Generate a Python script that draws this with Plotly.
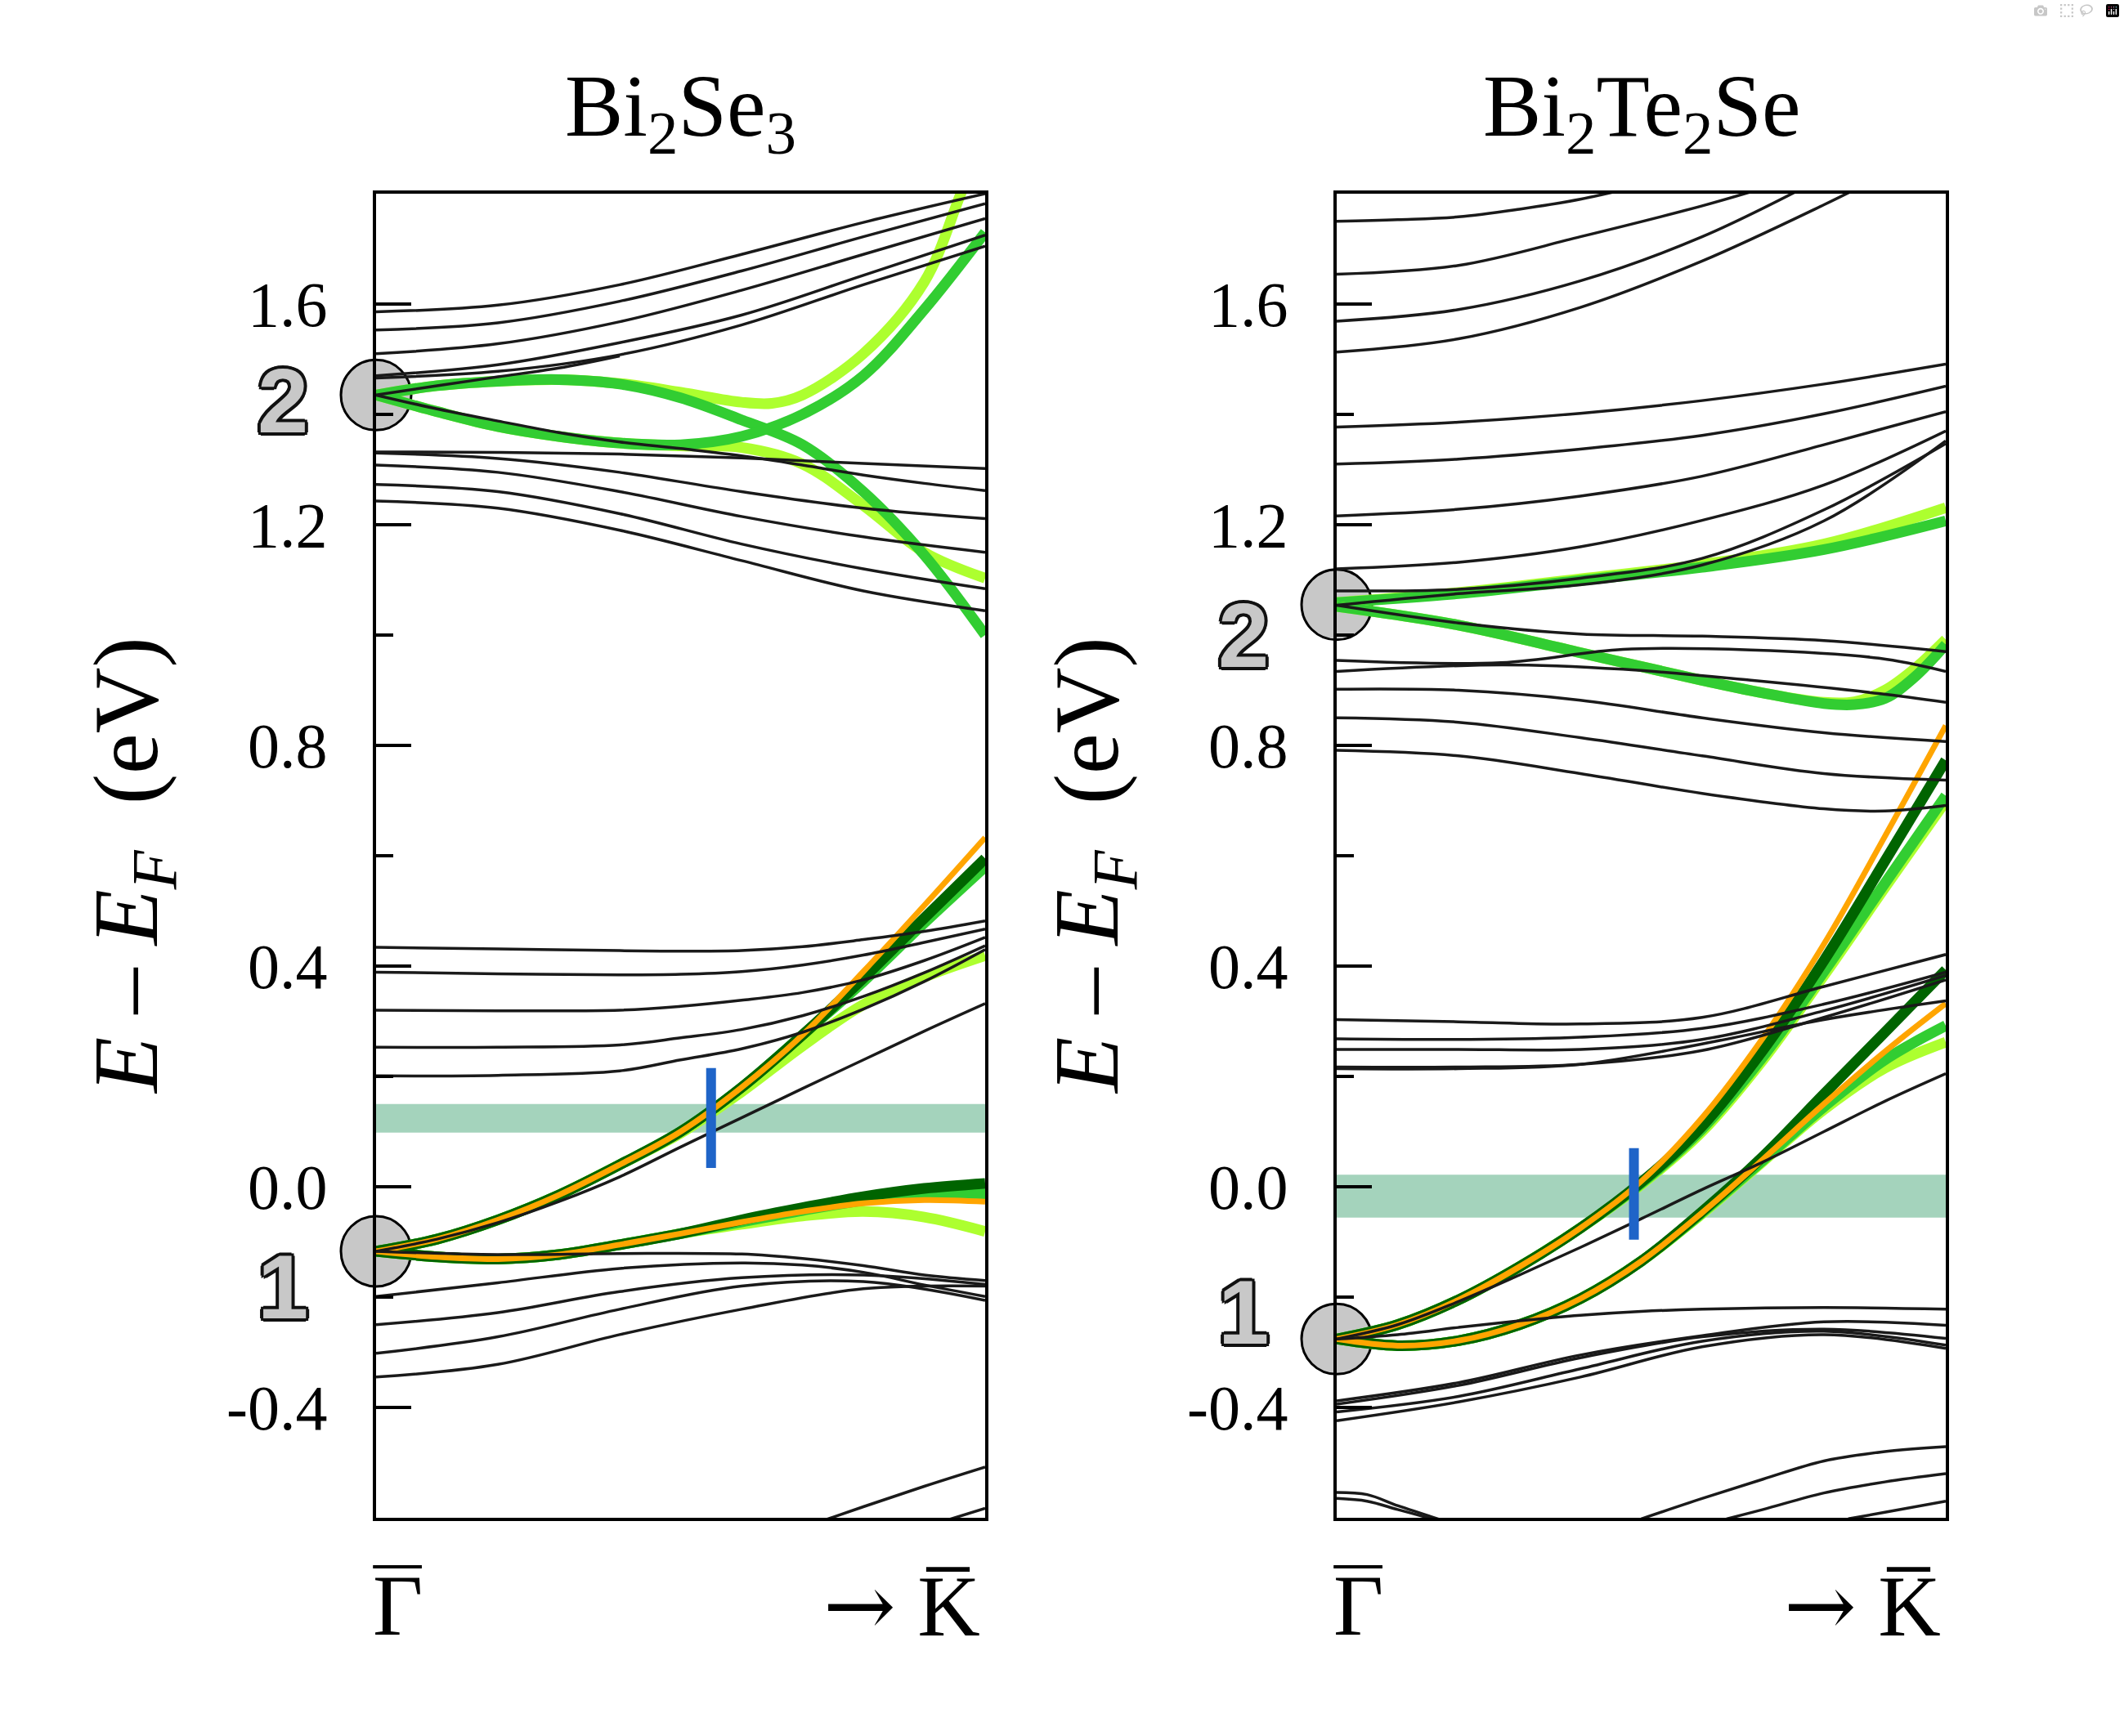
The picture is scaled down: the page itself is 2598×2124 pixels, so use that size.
import plotly.graph_objects as go

# k along Gamma -> K (fraction of the drawn path)
k6 = [0.0, 0.2, 0.4, 0.6, 0.8, 1.0]
k9 = [0.0, 0.2, 0.4, 0.5, 0.6, 0.7, 0.8, 0.9, 1.0]
k11 = [0.0, 0.1, 0.2, 0.3, 0.4, 0.5, 0.6, 0.7, 0.8, 0.9, 1.0]

# ---------------- Bi2Se3 (left panel) ----------------
se_u1 = [1.586, 1.598, 1.635, 1.69, 1.748, 1.80]
se_u2 = [1.553, 1.566, 1.605, 1.66, 1.722, 1.782]
se_u3 = [1.51, 1.528, 1.568, 1.625, 1.69, 1.755]
se_u4 = [1.47, 1.49, 1.53, 1.58, 1.652, 1.725]
se_u5 = [1.466, 1.478, 1.508, 1.562, 1.635, 1.705]
se_u6_k = [0.0, 0.1, 0.2, 0.3, 0.4]
se_u6 = [1.435, 1.452, 1.468, 1.484, 1.506]
se_d1 = [1.435, 1.41, 1.388, 1.367, 1.35, 1.338, 1.325, 1.308, 1.29, 1.275, 1.262]
se_f1 = [1.332, 1.331, 1.328, 1.321, 1.311, 1.302]
se_f2 = [1.33, 1.32, 1.295, 1.26, 1.23, 1.211]
se_f3 = [1.308, 1.295, 1.26, 1.215, 1.178, 1.15]
se_f4 = [1.273, 1.26, 1.22, 1.165, 1.12, 1.084]
se_f5 = [1.243, 1.23, 1.19, 1.135, 1.08, 1.044]
se_c1 = [0.434, 0.431, 0.428, 0.427, 0.428, 0.435, 0.448, 0.463, 0.482]
se_c2 = [0.389, 0.386, 0.384, 0.385, 0.39, 0.402, 0.42, 0.443, 0.467]
se_c3 = [0.320, 0.319, 0.320, 0.327, 0.338, 0.352, 0.375, 0.41, 0.452]
se_c4 = [0.253, 0.253, 0.257, 0.27, 0.285, 0.31, 0.345, 0.388, 0.437]
se_c5 = [0.201, 0.202, 0.21, 0.23, 0.25, 0.28, 0.322, 0.372, 0.43]
se_c6 = [-0.117, -0.095, -0.065, -0.027, 0.018, 0.072, 0.125, 0.178, 0.23, 0.282, 0.332]
se_v_k = [0.0, 0.2, 0.4, 0.6, 0.7, 0.8, 0.9, 1.0]
se_v1 = [-0.117, -0.123, -0.121, -0.122, -0.13, -0.143, -0.16, -0.17]
se_v2 = [-0.199, -0.174, -0.148, -0.138, -0.142, -0.155, -0.178, -0.199]
se_v3 = [-0.25, -0.228, -0.19, -0.165, -0.16, -0.177]
se_v4 = [-0.302, -0.272, -0.222, -0.18, -0.172, -0.206]
se_v5 = [-0.345, -0.322, -0.268, -0.222, -0.185, -0.18]
se_v6_k = [0.7, 0.8, 0.9, 1.0]
se_v6 = [-0.618, -0.58, -0.543, -0.508]
se_v7_k = [0.9, 1.0]
se_v7 = [-0.617, -0.583]

# surface states and resonances (coloured)
se_ss_up = [-0.117, -0.095, -0.06, -0.015, 0.04, 0.1, 0.18, 0.275, 0.39, 0.51, 0.633]
se_ss_up_dg = [-0.117, -0.095, -0.06, -0.015, 0.04, 0.1, 0.18, 0.275, 0.378, 0.487, 0.595]
se_ss_up_lg = [-0.117, -0.095, -0.06, -0.015, 0.04, 0.1, 0.18, 0.275, 0.372, 0.478, 0.58]
se_ss_up_yg = [-0.117, -0.095, -0.06, -0.015, 0.04, 0.097, 0.172, 0.255, 0.33, 0.38, 0.419]
se_ss_lo = [-0.117, -0.127, -0.131, -0.123, -0.105, -0.085, -0.064, -0.045, -0.03, -0.024, -0.027]
se_ss_lo_dg = [-0.117, -0.127, -0.131, -0.123, -0.105, -0.085, -0.06, -0.038, -0.018, -0.003, 0.006]
se_ss_lo_lg = [-0.117, -0.127, -0.131, -0.123, -0.105, -0.085, -0.064, -0.043, -0.025, -0.015, -0.013]
se_ss_lo_yg = [-0.117, -0.127, -0.131, -0.123, -0.105, -0.085, -0.068, -0.053, -0.045, -0.055, -0.081]
se_cb_p = [1.435, 1.452, 1.46, 1.463, 1.455, 1.43, 1.39, 1.345, 1.26, 1.145, 1.0]
se_cb_q = [1.435, 1.405, 1.378, 1.36, 1.348, 1.345, 1.36, 1.4, 1.47, 1.59, 1.73]
se_cb_a_k = [0.0, 0.1, 0.2, 0.3, 0.4, 0.5, 0.6, 0.65, 0.7, 0.8, 0.9, 0.96, 1.0]
se_cb_a = [1.435, 1.452, 1.46, 1.463, 1.456, 1.44, 1.422, 1.42, 1.435, 1.51, 1.64, 1.80, 1.91]
se_cb_b = [1.435, 1.405, 1.378, 1.36, 1.348, 1.343, 1.34, 1.31, 1.235, 1.15, 1.103]

se_kf = 0.55
se_kf_e = [0.034, 0.215]
se_band = [0.098, 0.150]
se_nodes = [1.435, -0.117]
se_node_lbl = [1.425, -0.182]

# ---------------- Bi2Te2Se (right panel) ----------------
te_r1_k = [0.0, 0.1, 0.2, 0.3, 0.4, 0.5]
te_r1 = [1.750, 1.753, 1.758, 1.772, 1.79, 1.815]
te_r2_k = [0.0, 0.2, 0.4, 0.6, 0.7]
te_r2 = [1.654, 1.67, 1.722, 1.778, 1.81]
te_r3_k = [0.0, 0.2, 0.4, 0.6, 0.8]
te_r3 = [1.569, 1.59, 1.642, 1.722, 1.83]
te_r4_k = [0.0, 0.2, 0.4, 0.6, 0.8, 0.9]
te_r4 = [1.513, 1.537, 1.594, 1.678, 1.78, 1.835]
te_r5 = [1.377, 1.386, 1.402, 1.425, 1.455, 1.491]
te_r6 = [1.310, 1.319, 1.337, 1.362, 1.401, 1.451]
te_r7 = [1.216, 1.228, 1.252, 1.288, 1.345, 1.405]
te_r8 = [1.120, 1.132, 1.160, 1.208, 1.272, 1.370]
te_r9 = [1.08, 1.083, 1.103, 1.139, 1.227, 1.347]
te_r10 = [1.054, 1.075, 1.091, 1.127, 1.207, 1.352]
te_r11 = [1.054, 1.022, 1.002, 0.998, 0.99, 0.97]
te_r12_k = [0.0, 0.27, 0.47, 0.68, 0.89, 1.0]
te_r12 = [0.954, 0.95, 0.974, 0.973, 0.958, 0.934]
te_r13 = [0.934, 0.946, 0.938, 0.918, 0.894, 0.878]
te_r14 = [0.902, 0.90, 0.882, 0.85, 0.823, 0.807]
te_r15 = [0.85, 0.842, 0.814, 0.781, 0.749, 0.737]
te_r16_k = [0.0, 0.2, 0.4, 0.6, 0.8, 0.9, 1.0]
te_r16 = [0.791, 0.781, 0.749, 0.713, 0.685, 0.681, 0.691]
te_s1 = [0.303, 0.299, 0.295, 0.307, 0.363, 0.421]
te_s2 = [0.268, 0.267, 0.271, 0.287, 0.331, 0.389]
te_s3 = [0.249, 0.249, 0.249, 0.267, 0.319, 0.383]
te_s4 = [0.217, 0.217, 0.222, 0.247, 0.307, 0.375]
te_s5 = [0.214, 0.214, 0.222, 0.259, 0.303, 0.337]
te_s6 = [-0.276, -0.25, -0.208, -0.16, -0.11, -0.058, -0.005, 0.045, 0.1, 0.155, 0.205]
te_t1_k = [0.0, 0.1, 0.2, 0.3, 0.4, 0.5, 0.6, 0.8, 1.0]
te_t1 = [-0.276, -0.268, -0.255, -0.243, -0.233, -0.226, -0.222, -0.219, -0.222]
te_t2 = [-0.388, -0.355, -0.305, -0.27, -0.245, -0.251]
te_t3 = [-0.394, -0.36, -0.31, -0.272, -0.258, -0.275]
te_t4 = [-0.408, -0.38, -0.33, -0.28, -0.262, -0.287]
te_t5 = [-0.424, -0.39, -0.345, -0.29, -0.268, -0.293]
te_v12_k = [0.0, 0.05, 0.1, 0.15, 0.2]
te_v1 = [-0.554, -0.558, -0.578, -0.596, -0.615]
te_v2 = [-0.565, -0.57, -0.585, -0.6, -0.615]
te_v3_k = [0.5, 0.6, 0.7, 0.8, 0.9, 1.0]
te_v3 = [-0.602, -0.565, -0.53, -0.497, -0.48, -0.471]
te_v4_k = [0.64, 0.7, 0.8, 0.9, 1.0]
te_v4 = [-0.602, -0.585, -0.555, -0.535, -0.52]
te_v5_k = [0.84, 0.9, 1.0]
te_v5 = [-0.602, -0.59, -0.57]

te_ss_up = [-0.276, -0.25, -0.205, -0.145, -0.075, 0.01, 0.125, 0.27, 0.44, 0.635, 0.836]
te_ss_up_dg = [-0.276, -0.25, -0.205, -0.145, -0.075, 0.008, 0.11, 0.248, 0.41, 0.59, 0.773]
te_ss_up_lg = [-0.276, -0.25, -0.205, -0.145, -0.075, 0.006, 0.105, 0.236, 0.39, 0.55, 0.709]
te_ss_up_yg = [-0.276, -0.25, -0.205, -0.145, -0.075, 0.004, 0.1, 0.23, 0.383, 0.542, 0.699]
te_ss_lo = [-0.276, -0.288, -0.279, -0.25, -0.203, -0.135, -0.047, 0.05, 0.15, 0.245, 0.332]
te_ss_lo_dg = [-0.276, -0.288, -0.279, -0.25, -0.203, -0.135, -0.045, 0.055, 0.168, 0.28, 0.393]
te_ss_lo_lg = [-0.276, -0.288, -0.279, -0.25, -0.203, -0.135, -0.047, 0.048, 0.145, 0.23, 0.292]
te_ss_lo_yg = [-0.276, -0.288, -0.279, -0.25, -0.203, -0.135, -0.049, 0.046, 0.14, 0.215, 0.262]
te_cb_up_lg = [1.059, 1.075, 1.099, 1.123, 1.155, 1.207]
te_cb_up_yg = [1.059, 1.077, 1.102, 1.128, 1.165, 1.231]
te_cb_dn_k = [0.0, 0.2, 0.4, 0.6, 0.7, 0.8, 0.85, 0.9, 0.95, 1.0]
te_cb_dn_lg = [1.052, 1.018, 0.968, 0.918, 0.895, 0.876, 0.874, 0.885, 0.925, 0.983]
te_cb_dn_yg = [1.052, 1.018, 0.968, 0.918, 0.895, 0.878, 0.879, 0.9, 0.94, 0.992]

te_kf = 0.488
te_kf_e = [-0.096, 0.07]
te_band = [-0.056, 0.022]
te_nodes = [1.055, -0.276]
te_node_lbl = [0.999, -0.227]

# axis ticks
major_ticks = [-0.4, 0.0, 0.4, 0.8, 1.2, 1.6]
major_labels = ["-0.4", "0.0", "0.4", "0.8", "1.2", "1.6"]
minor_ticks = [-0.2, 0.2, 0.6, 1.0, 1.4]
titles = ["Bi<sub>2</sub>Se<sub>3</sub>", "Bi<sub>2</sub>Te<sub>2</sub>Se"]

BLACK = "#1a1a1a"
LIME = "#32cd32"
YGREEN = "#adff2f"
DGREEN = "#006400"
ORANGE = "#ffa500"
BLUE = "#1f64c8"
TEAL = "#a4d3bc"
SERIF = "Liberation Serif"

E_RANGE = [-0.6, 1.8]
X_DOMAINS = [[0.17706, 0.46382], [0.62933, 0.91609]]
Y_DOMAIN = [0.12571, 0.88842]

fig = go.Figure()


def add_line(x, y, color, width, ax):
    fig.add_trace(go.Scatter(
        x=x, y=y, mode="lines", xaxis="x" + ax, yaxis="y" + ax,
        line=dict(color=color, width=width, shape="spline", smoothing=1.0),
        hoverinfo="skip", showlegend=False))


def to_paper(k, e, col):
    # data -> paper coords, for labels that sit outside the plot range
    d = X_DOMAINS[col]
    px = d[0] + k * (d[1] - d[0])
    py = Y_DOMAIN[0] + (e - E_RANGE[0]) / (E_RANGE[1] - E_RANGE[0]) * (Y_DOMAIN[1] - Y_DOMAIN[0])
    return px, py


GW, DW, OW, KW = 13, 13, 7, 3.5   # line widths: green, dark green, orange, black

panels = [
    dict(ax="", nodes=se_nodes,
         colored=[(k11, se_ss_up_yg, YGREEN, GW), (k11, se_ss_up_lg, LIME, GW),
                  (k11, se_ss_lo_yg, YGREEN, GW), (k11, se_ss_lo_lg, LIME, GW),
                  (k11, se_ss_up_dg, DGREEN, DW), (k11, se_ss_lo_dg, DGREEN, DW),
                  (k11, se_ss_up, ORANGE, OW), (k11, se_ss_lo, ORANGE, OW),
                  (se_cb_a_k, se_cb_a, YGREEN, GW), (k11, se_cb_b, YGREEN, GW),
                  (k11, se_cb_p, LIME, GW), (k11, se_cb_q, LIME, GW)],
         black=[(k6, se_u1), (k6, se_u2), (k6, se_u3), (k6, se_u4), (k6, se_u5),
                (se_u6_k, se_u6), (k11, se_d1), (k6, se_f1), (k6, se_f2), (k6, se_f3),
                (k6, se_f4), (k6, se_f5), (k9, se_c1), (k9, se_c2), (k9, se_c3),
                (k9, se_c4), (k9, se_c5), (k11, se_c6), (se_v_k, se_v1), (se_v_k, se_v2),
                (k6, se_v3), (k6, se_v4), (k6, se_v5), (se_v6_k, se_v6), (se_v7_k, se_v7)],
         kf=se_kf, kf_e=se_kf_e),
    dict(ax="2", nodes=te_nodes,
         colored=[(k11, te_ss_up_yg, YGREEN, GW), (k11, te_ss_up_lg, LIME, GW),
                  (k11, te_ss_lo_yg, YGREEN, GW), (k11, te_ss_lo_lg, LIME, GW),
                  (k11, te_ss_up_dg, DGREEN, DW), (k11, te_ss_lo_dg, DGREEN, DW),
                  (k11, te_ss_up, ORANGE, OW), (k11, te_ss_lo, ORANGE, OW),
                  (k6, te_cb_up_yg, YGREEN, GW), (k6, te_cb_up_lg, LIME, GW),
                  (te_cb_dn_k, te_cb_dn_yg, YGREEN, GW), (te_cb_dn_k, te_cb_dn_lg, LIME, GW)],
         black=[(te_r1_k, te_r1), (te_r2_k, te_r2), (te_r3_k, te_r3), (te_r4_k, te_r4),
                (k6, te_r5), (k6, te_r6), (k6, te_r7), (k6, te_r8), (k6, te_r9),
                (k6, te_r10), (k6, te_r11), (te_r12_k, te_r12), (te_r12_k, te_r13),
                (k6, te_r14), (k6, te_r15), (te_r16_k, te_r16),
                (k6, te_s1), (k6, te_s2), (k6, te_s3), (k6, te_s4), (k6, te_s5),
                (k11, te_s6), (te_t1_k, te_t1), (k6, te_t2), (k6, te_t3), (k6, te_t4),
                (k6, te_t5), (te_v12_k, te_v1), (te_v12_k, te_v2), (te_v3_k, te_v3),
                (te_v4_k, te_v4), (te_v5_k, te_v5)],
         kf=te_kf, kf_e=te_kf_e),
]

for p in panels:
    ax = p["ax"]
    # grey circles at the Gamma-point nodes, under everything
    fig.add_trace(go.Scatter(
        x=[0, 0], y=p["nodes"], mode="markers", xaxis="x" + ax, yaxis="y" + ax,
        marker=dict(size=86, color="#c8c8c8", line=dict(color="black", width=3)),
        cliponaxis=False, hoverinfo="skip", showlegend=False))
    for x, y, c, w in p["colored"]:
        add_line(x, y, c, w, ax)
    for x, y in p["black"]:
        add_line(x, y, BLACK, KW, ax)
    # blue k_F marker
    fig.add_trace(go.Scatter(
        x=[p["kf"], p["kf"]], y=p["kf_e"], mode="lines", xaxis="x" + ax, yaxis="y" + ax,
        line=dict(color=BLUE, width=12), hoverinfo="skip", showlegend=False))

# teal bands (Fermi level window)
for ax, b in (("", se_band), ("2", te_band)):
    fig.add_shape(type="rect", xref="x" + ax, yref="y" + ax, x0=0, x1=1, y0=b[0], y1=b[1],
                  fillcolor=TEAL, line_width=0, layer="below")

xax = dict(range=[0, 1], showline=True, linecolor="black", linewidth=4, mirror=True,
           showticklabels=False, ticks="", showgrid=False, zeroline=False, fixedrange=True)
yax = dict(range=E_RANGE, showline=True, linecolor="black", linewidth=4, mirror=True,
           tickmode="array", tickvals=major_ticks, ticktext=major_labels,
           ticks="inside", ticklen=43, tickwidth=4, tickcolor="black",
           minor=dict(tickvals=minor_ticks, ticks="inside", ticklen=21, tickwidth=4,
                      tickcolor="black"),
           tickfont=dict(family=SERIF, size=78, color="black"), ticklabelstandoff=40,
           showgrid=False, zeroline=False, fixedrange=True)

fig.update_layout(
    width=2598, height=2124, autosize=False,
    margin=dict(l=0, r=0, t=0, b=0),
    paper_bgcolor="white", plot_bgcolor="rgba(0,0,0,0)",
    showlegend=False,
    xaxis=dict(xax, domain=X_DOMAINS[0], anchor="y"),
    yaxis=dict(yax, domain=Y_DOMAIN, anchor="x"),
    xaxis2=dict(xax, domain=X_DOMAINS[1], anchor="y2"),
    yaxis2=dict(yax, domain=Y_DOMAIN, anchor="x2"),
)

outline = ", ".join(f"{dx}px {dy}px 0 #111" for dx, dy in
                    [(4, 0), (-4, 0), (0, 4), (0, -4), (3, 3), (-3, 3), (3, -3), (-3, -3),
                     (2, 0), (-2, 0), (0, 2), (0, -2)])
LABEL_Y = 0.0749        # centre line of the Gamma / K labels (paper)
BAR_Y = 0.0975          # overline above the Gamma label (paper)
ann = []
for col, title, lbl in ((0, titles[0], se_node_lbl), (1, titles[1], te_node_lbl)):
    xc = sum(X_DOMAINS[col]) / 2
    ann.append(dict(text=title, xref="paper", yref="paper", x=xc, y=0.9352,
                    xanchor="center", yanchor="middle", showarrow=False,
                    font=dict(family=SERIF, size=107, color="black")))
    for txt, e in zip(["2", "1"], lbl):
        px, py = to_paper(-0.153, e, col)
        ann.append(dict(text="<b>" + txt + "</b>", xref="paper", yref="paper", x=px, y=py,
                        xanchor="center", yanchor="middle", showarrow=False,
                        font=dict(family="Liberation Sans", size=112, color="#c8c8c8",
                                  shadow=outline)))
    px, _ = to_paper(-0.4, 0, col)
    ann.append(dict(text="<i>E</i> \u2013 <i>E</i><sub><i>F</i></sub> &nbsp;(eV)",
                    xref="paper", yref="paper", x=px, y=0.5014, textangle=-90,
                    xanchor="center", yanchor="middle", showarrow=False,
                    font=dict(family=SERIF, size=112, color="black")))
    gx, _ = to_paper(0.035, 0, col)
    ann.append(dict(text="\u0393", xref="paper", yref="paper", x=gx, y=LABEL_Y,
                    xanchor="center", yanchor="middle", showarrow=False,
                    font=dict(family=SERIF, size=106, color="black")))
    fig.add_shape(type="line", xref="paper", yref="paper", x0=gx - 0.0115, x1=gx + 0.0115,
                  y0=BAR_Y, y1=BAR_Y, line=dict(color="black", width=4))
    px, _ = to_paper(0.995, 0, col)
    ann.append(dict(text="<span style='font-family:DejaVu Serif'>\u2192</span> K\u0305",
                    xref="paper", yref="paper", x=px, y=LABEL_Y,
                    xanchor="right", yanchor="middle", showarrow=False,
                    font=dict(family=SERIF, size=106, color="black")))
fig.update_layout(annotations=ann)

fig.write_html("out.html", post_script="document.body.style.margin='0';")
